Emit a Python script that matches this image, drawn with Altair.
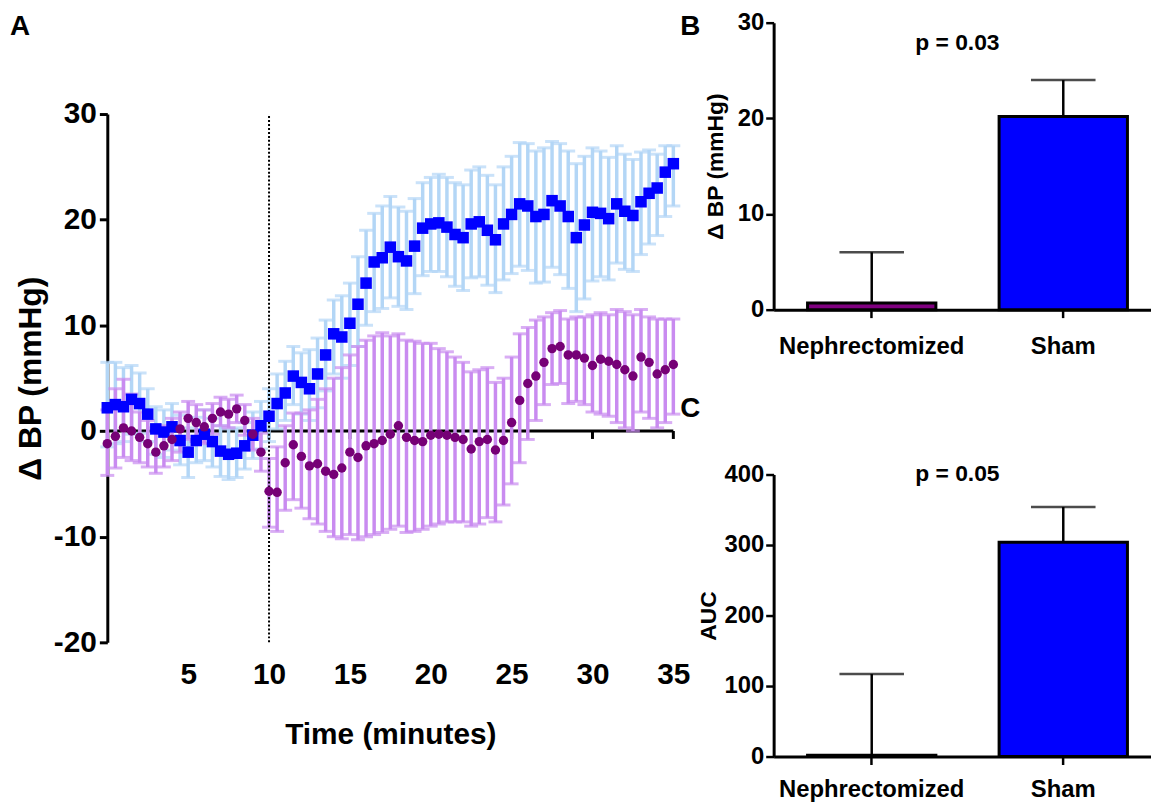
import altair as alt
import pandas as pd

FONT = "Liberation Sans"

# ---------------- Panel A data (time course) ----------------
TIME = [0, 0.5, 1, 1.5, 2, 2.5, 3, 3.5, 4, 4.5,
        5, 5.5, 6, 6.5, 7, 7.5, 8, 8.5, 9, 9.5,
        10, 10.5, 11, 11.5, 12, 12.5, 13, 13.5, 14, 14.5,
        15, 15.5, 16, 16.5, 17, 17.5, 18, 18.5, 19, 19.5,
        20, 20.5, 21, 21.5, 22, 22.5, 23, 23.5, 24, 24.5,
        25, 25.5, 26, 26.5, 27, 27.5, 28, 28.5, 29, 29.5,
        30, 30.5, 31, 31.5, 32, 32.5, 33, 33.5, 34, 34.5, 35]

SHAM_MEAN = [2.2, 2.5, 2.3, 3.0, 2.6, 1.6, 0.2, -0.1, 0.4, -0.9,
             -2.0, -0.9, -0.3, -1.0, -1.9, -2.2, -2.1, -1.4, -0.4, 0.5,
             1.4, 2.6, 3.6, 5.2, 4.6, 4.0, 5.4, 7.2, 9.2, 8.9,
             10.2, 12.0, 14.0, 16.0, 16.4, 17.4, 16.5, 16.1, 17.5, 19.2,
             19.6, 19.7, 19.3, 18.6, 18.3, 19.6, 19.8, 19.0, 18.1, 19.6,
             20.5, 21.5, 21.3, 20.3, 20.5, 21.8, 21.3, 20.3, 18.3, 19.5,
             20.7, 20.6, 20.1, 21.5, 20.8, 20.4, 21.7, 22.5, 23.0, 24.5, 25.3]
SHAM_HI = [6.5, 6.5, 6.0, 6.2, 5.5, 4.0, 2.3, 2.0, 2.6, 1.5,
           0.3, 1.3, 2.0, 1.2, 0.5, 0.2, 0.3, 0.8, 1.8, 2.8,
           4.0, 5.4, 6.6, 8.0, 7.4, 7.7, 8.8, 10.5, 12.4, 12.8,
           14.0, 16.5, 19.0, 20.6, 21.3, 22.2, 21.2, 20.8, 22.0, 23.5,
           24.0, 24.3, 24.0, 23.5, 23.3, 24.7, 25.0, 24.2, 23.3, 25.0,
           26.0, 27.3, 27.2, 26.5, 26.8, 27.4, 27.2, 26.5, 25.3, 26.0,
           26.8, 26.5, 25.9, 27.0, 26.2, 25.7, 26.4, 26.6, 26.2, 27.0, 27.0]
SHAM_LO = [-1.5, -1.2, -1.0, -0.3, -0.2, -1.0, -2.2, -2.5, -1.8, -3.2,
           -4.4, -3.0, -2.8, -3.4, -4.3, -4.6, -4.4, -3.6, -2.6, -1.7,
           -1.0, 0.2, 1.0, 2.5, 1.6, 1.0, 2.2, 3.8, 5.4, 5.0,
           6.2, 8.0, 10.0, 11.3, 11.6, 12.6, 11.8, 11.5, 13.0, 14.7,
           15.1, 15.1, 14.6, 13.7, 13.3, 14.5, 14.6, 13.8, 13.1, 14.3,
           14.9, 15.6, 15.2, 14.0, 14.1, 15.5, 14.8, 13.5, 11.3, 12.5,
           14.2, 14.6, 14.3, 15.9, 15.3, 15.1, 16.7, 17.7, 18.5, 20.3, 21.3]

NEPH_MEAN = [-1.2, -0.5, 0.3, 0.0, -0.6, -1.2, -2.0, -1.4, -0.8, 0.2,
             1.2, 0.8, 0.4, 1.2, 1.8, 1.6, 2.1, 1.0, -0.3, -2.0,
             -5.7, -5.8, -3.0, -1.3, -2.4, -3.3, -3.1, -3.8, -4.1, -3.5,
             -2.0, -2.5, -1.4, -1.2, -0.9, -0.3, 0.5, -0.6, -0.9, -1.0,
             -0.4, -0.3, -0.4, -0.6, -0.8, -1.7, -1.0, -0.8, -1.8, -0.9,
             0.8, 2.9, 4.5, 5.2, 6.5, 7.8, 8.0, 7.2, 7.2, 6.9,
             6.2, 6.8, 6.6, 6.3, 5.8, 5.2, 7.0, 6.5, 5.4, 5.8, 6.3]
NEPH_HI = [2.0, 4.0, 4.9, 3.5, 1.8, 1.0, 0.3, 0.5, 1.2, 1.8,
           2.8, 2.5, 2.0, 2.6, 3.2, 3.0, 3.4, 2.5, 1.2, -0.2,
           -2.6, -1.5, 0.5, 1.7, 1.7, 2.0, 3.0, 4.0, 5.0, 6.0,
           7.2, 8.0, 8.6, 9.0, 9.3, 9.0, 9.2, 8.6, 8.5, 8.3,
           8.3, 7.8, 7.5, 7.0, 6.5, 5.6, 5.8, 6.0, 4.6, 5.0,
           7.0, 9.2, 9.8, 10.5, 10.8, 11.2, 11.4, 10.6, 10.8, 10.8,
           11.0, 11.2, 11.0, 11.5, 11.3, 11.0, 11.5, 10.8, 10.6, 10.6, 10.6]
NEPH_LO = [-4.2, -3.5, -2.5, -2.8, -3.0, -3.4, -4.0, -3.4, -2.8, -2.0,
           -0.8, -1.0, -1.2, -0.3, 0.5, 0.3, 0.8, -0.4, -1.8, -3.8,
           -9.1, -9.5, -7.5, -6.5, -7.3, -8.3, -8.8, -9.5, -10.0, -10.2,
           -9.8, -10.3, -10.0, -9.8, -9.6, -9.3, -9.0, -9.6, -9.5, -9.3,
           -9.0, -8.8, -8.6, -8.6, -8.6, -9.0, -8.8, -8.2, -8.6, -7.0,
           -5.0, -3.0, -0.8, 1.0, 2.5, 4.4, 4.5, 2.6, 2.8, 2.5,
           1.8, 1.6, 1.4, 0.8, 0.3, 0.0, 1.8, 1.2, 0.3, 0.8, 1.6]

X_TICKS = [5, 10, 15, 20, 25, 30, 35]
Y_TICKS_A = [-20, -10, 0, 10, 20, 30]
STIMULUS_TIME = [10]

# ---------------- Panels B and C data ----------------
GROUPS = ["Nephrectomized", "Sham"]
DBP_MEAN = [0.7, 20.2]
DBP_SEM = [5.3, 3.8]
AUC_MEAN = [2, 304]
AUC_SEM = [115, 50]
P_B = ["p = 0.03"]
P_C = ["p = 0.05"]

BLUE = "#0000FF"
BLUE_ERR = "#B3D6F6"
PURPLE = "#760076"
PURPLE_ERR = "#C98BF0"
PURPLE_BAR = "#800080"

# ---------------- Panel A ----------------
WA, HA = 570, 624
XS = alt.Scale(domain=[0, 35], nice=False, zero=False)
YS = alt.Scale(domain=[-20, 30], range=[HA, 92], nice=False, zero=False)

ts = pd.DataFrame({
    "t": TIME * 2,
    "mean": SHAM_MEAN + NEPH_MEAN,
    "hi": SHAM_HI + NEPH_HI,
    "lo": SHAM_LO + NEPH_LO,
    "group": ["Sham"] * len(TIME) + ["Nephrectomized"] * len(TIME),
})
sham = ts[ts.group == "Sham"]
neph = ts[ts.group == "Nephrectomized"]

one = pd.DataFrame({"a": [0]})
ticks_df = pd.DataFrame({"t": X_TICKS})
stim_df = pd.DataFrame({"t": STIMULUS_TIME})

XA = alt.Axis(values=X_TICKS, title="Time (minutes)", domain=False, ticks=False,
              tickSize=0, grid=False, labelFont=FONT, labelFontSize=30,
              labelFontWeight="bold", labelColor="black", labelPadding=17,
              labelFlush=False, labelOverlap=False, titleFont=FONT,
              titleFontSize=30, titleFontWeight="bold", titleColor="black",
              titlePadding=31)
YA = alt.Axis(values=Y_TICKS_A, title="Δ BP (mmHg)", grid=False,
              domainColor="black", domainWidth=3, tickColor="black",
              tickWidth=3, tickSize=8, labelFont=FONT, labelFontSize=30,
              labelFontWeight="bold", labelColor="black", labelPadding=3,
              labelOverlap=False, labelExpr="datum.value", titleFont=FONT,
              titleFontSize=32, titleFontWeight="bold", titleColor="black",
              titlePadding=6)

zero_line = alt.Chart(one).mark_rule(color="black", strokeWidth=3).encode(
    x=alt.datum(0, scale=XS, axis=XA),
    x2=alt.datum(35),
    y=alt.datum(0, scale=YS, axis=YA),
)
x_ticks = alt.Chart(ticks_df).mark_rule(color="black", strokeWidth=3).encode(
    x=alt.X("t:Q", scale=XS, axis=XA),
    y=alt.datum(0, scale=YS, axis=YA),
    y2=alt.datum(-0.75),
)


def err_layers(df, color):
    rule = alt.Chart(df).mark_rule(color=color, strokeWidth=3.5).encode(
        x=alt.X("t:Q", scale=XS, axis=XA),
        y=alt.Y("lo:Q", scale=YS, axis=YA),
        y2="hi:Q",
    )
    cap_hi = alt.Chart(df).mark_tick(color=color, size=14, thickness=3,
                                     orient="horizontal").encode(
        x=alt.X("t:Q", scale=XS, axis=XA),
        y=alt.Y("hi:Q", scale=YS, axis=YA),
    )
    cap_lo = alt.Chart(df).mark_tick(color=color, size=14, thickness=3,
                                     orient="horizontal").encode(
        x=alt.X("t:Q", scale=XS, axis=XA),
        y=alt.Y("lo:Q", scale=YS, axis=YA),
    )
    return [rule, cap_hi, cap_lo]


stim_line = alt.Chart(stim_df).mark_rule(color="black", strokeWidth=2,
                                         strokeDash=[2, 2]).encode(
    x=alt.X("t:Q", scale=XS, axis=XA),
    y=alt.datum(-20, scale=YS, axis=YA),
    y2=alt.datum(30),
)
sham_pts = alt.Chart(sham).mark_square(size=135, color=BLUE, opacity=1).encode(
    x=alt.X("t:Q", scale=XS, axis=XA),
    y=alt.Y("mean:Q", scale=YS, axis=YA),
)
neph_pts = alt.Chart(neph).mark_circle(size=90, color=PURPLE, opacity=1).encode(
    x=alt.X("t:Q", scale=XS, axis=XA),
    y=alt.Y("mean:Q", scale=YS, axis=YA),
)

panel_a = alt.layer(
    zero_line, x_ticks,
    *err_layers(sham, BLUE_ERR),
    *err_layers(neph, PURPLE_ERR),
    stim_line, sham_pts, neph_pts,
).properties(
    width=WA, height=HA,
    title=alt.TitleParams("A", anchor="start", frame="group", dx=-98, dy=40,
                          offset=0, baseline="alphabetic", font=FONT,
                          fontSize=28, fontWeight="bold", color="black"),
)


# ---------------- Panels B / C ----------------
def bar_panel(means, sems, domain, yvals, height, letter, ytitle, ptext, p_y,
              xlab_pad, ytitle_pad, letter_dy):
    df = pd.DataFrame({"group": GROUPS, "value": means,
                       "hi": [m + s for m, s in zip(means, sems)]})
    xs = alt.Scale(domain=GROUPS, paddingInner=0.33, paddingOuter=0.15,
                   align=0.59)
    ys = alt.Scale(domain=domain, nice=False, zero=True)
    x_axis = alt.Axis(title=None, labelAngle=0, labelFont=FONT, labelFontSize=24,
                      labelFontWeight="bold", labelColor="black", labelLimit=0,
                      labelPadding=xlab_pad, domainColor="black", domainWidth=3,
                      tickColor="black", tickWidth=2.5, tickSize=8)
    y_axis = alt.Axis(values=yvals, title=ytitle, grid=False, domainColor="black",
                      domainWidth=3, tickColor="black", tickWidth=2.5, tickSize=8,
                      labelFont=FONT, labelFontSize=24, labelFontWeight="bold",
                      labelColor="black", labelPadding=2, labelOverlap=False,
                      titleFont=FONT, titleFontSize=23, titleFontWeight="bold",
                      titleColor="black", titlePadding=ytitle_pad)
    bars = alt.Chart(df).mark_bar(stroke="black", strokeWidth=3).encode(
        x=alt.X("group:N", scale=xs, axis=x_axis, sort=GROUPS),
        y=alt.Y("value:Q", scale=ys, axis=y_axis),
        color=alt.Color("group:N", scale=alt.Scale(domain=GROUPS,
                                                   range=[PURPLE_BAR, BLUE]),
                        legend=None),
    )
    err = alt.Chart(df).mark_rule(color="black", strokeWidth=2.5).encode(
        x=alt.X("group:N", scale=xs, axis=x_axis, sort=GROUPS),
        y=alt.Y("value:Q", scale=ys, axis=y_axis),
        y2="hi:Q",
    )
    cap = alt.Chart(df).mark_tick(color="black", size=65, thickness=2.5).encode(
        x=alt.X("group:N", scale=xs, axis=x_axis, sort=GROUPS),
        y=alt.Y("hi:Q", scale=ys, axis=y_axis),
    )
    ptxt = alt.Chart(pd.DataFrame({"label": ptext, "y": [p_y]})).mark_text(
        font=FONT, fontSize=23, fontWeight="bold", color="black",
        baseline="middle", align="center").encode(
        x=alt.value(185),
        y=alt.Y("y:Q", scale=ys, axis=y_axis),
        text="label:N",
    )
    return alt.layer(err, cap, bars, ptxt).properties(
        width=380, height=height,
        title=alt.TitleParams(letter, anchor="start", frame="group", dx=-94,
                              dy=letter_dy, offset=0, baseline="alphabetic",
                              font=FONT, fontSize=28, fontWeight="bold",
                              color="black"),
    )


panel_b = bar_panel(DBP_MEAN, DBP_SEM, [0, 30], [0, 10, 20, 30], 289, "B",
                    "Δ BP (mmHg)", P_B, 27.9, 17, 10, 52)
panel_c = bar_panel(AUC_MEAN, AUC_SEM, [0, 400], [0, 100, 200, 300, 400], 284, "C",
                    "AUC", P_C, 400, 13, 3, -18)

right = alt.vconcat(panel_b, panel_c, spacing=166, bounds="flush")
chart = alt.hconcat(panel_a, right, spacing=101, bounds="flush").properties(
    padding={"left": 2, "top": 0, "right": 0, "bottom": 0},
).configure(font=FONT).configure_view(strokeWidth=0, stroke="transparent")

chart.save("out.html", embed_options={"renderer": "svg", "actions": False})
